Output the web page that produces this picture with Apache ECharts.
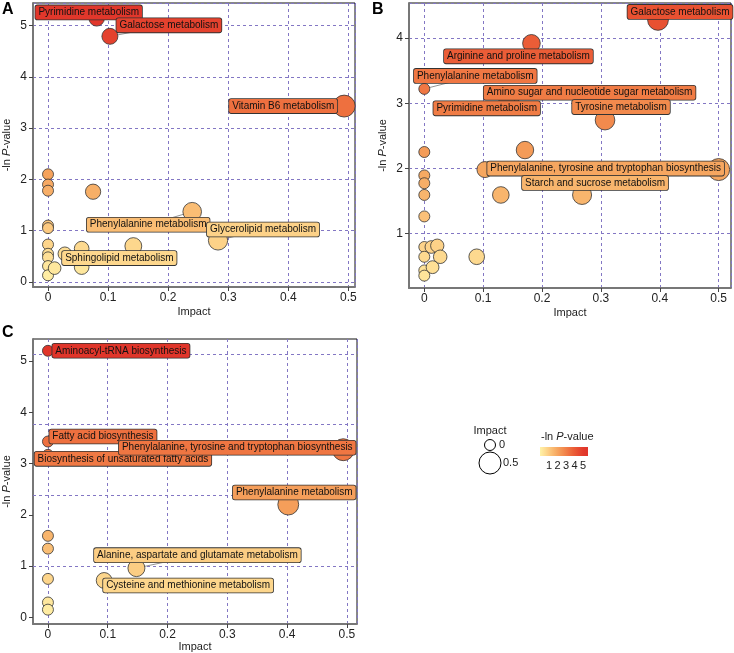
<!DOCTYPE html>
<html>
<head>
<meta charset="utf-8">
<script src="https://cdn.jsdelivr.net/npm/echarts@6/dist/echarts.min.js"></script>
<style>
html, body { margin: 0; padding: 0; background: #fff; }
#chart { width: 734px; height: 653px; }
</style>
</head>
<body>
<div id="chart"></div>
<script>
// panel A (labelled points first, names line up with the first entries)
const impactA = [0.081, 0.103, 0.493, 0.240, 0.283, 0.142, 0, 0, 0, 0, 0, 0, 0, 0, 0, 0, 0.011, 0.028, 0.056, 0.056, 0.075];
const logpA   = [5.14, 4.79, 3.43, 1.37, 0.81, 0.70, 2.10, 1.90, 1.78, 1.10, 1.05, 0.73, 0.55, 0.48, 0.31, 0.13, 0.27, 0.55, 0.65, 0.29, 1.76];
const namesA  = ['Pyrimidine metabolism', 'Galactose metabolism', 'Vitamin B6 metabolism', 'Phenylalanine metabolism', 'Glycerolipid metabolism', 'Sphingolipid metabolism'];

// panel B
const impactB = [0.397, 0.182, 0, 0.150, 0.140, 0.307, 0.500, 0.268, 0.103, 0.171, 0.130, 0.089, 0, 0, 0, 0, 0, 0, 0, 0, 0, 0.012, 0.022, 0.027, 0.014];
const logpB   = [4.28, 3.92, 3.22, 3.13, 3.09, 2.74, 1.98, 1.59, 1.98, 2.28, 1.59, 0.64, 2.25, 1.89, 1.77, 1.59, 1.26, 0.79, 0.64, 0.43, 0.35, 0.79, 0.81, 0.64, 0.48];
const namesB  = ['Galactose metabolism', 'Arginine and proline metabolism', 'Phenylalanine metabolism', 'Amino sugar and nucleotide sugar metabolism', 'Pyrimidine metabolism', 'Tyrosine metabolism', 'Phenylalanine, tyrosine and tryptophan biosynthesis', 'Starch and sucrose metabolism'];

// panel C
const impactC = [0, 0, 0, 0.494, 0.402, 0.148, 0.094, 0, 0, 0, 0, 0];
const logpC   = [5.20, 3.43, 3.17, 3.27, 2.20, 0.96, 0.72, 1.59, 1.34, 0.75, 0.29, 0.15];
const namesC  = ['Aminoacyl-tRNA biosynthesis', 'Fatty acid biosynthesis', 'Biosynthesis of unsaturated fatty acids', 'Phenylalanine, tyrosine and tryptophan biosynthesis', 'Phenylalanine metabolism', 'Alanine, aspartate and glutamate metabolism', 'Cysteine and methionine metabolism'];
const gridLinesC = [0.99, 2.38, 3.76, 5.14];

const colorTicks = [1, 2, 3, 4, 5];

// label centre offsets from the bubble, in px
const labelOffsets = [
  [[-8, -6], [59, -11], [-61, 0], [-44, 13], [45, -11], [-14, 12]],
  [[22, -8], [-13, 13], [51, -13], [77, -2], [-20, 11], [16, -13], [-113, -1], [13, -12]],
  [[73, 0], [55, -5], [75, 4], [-106, -2], [6, -12], [61, -13], [84, 5]]
];

const colorStops = ['#FFF2A8', '#FCC97F', '#F5A25C', '#F07A44', '#E95332', '#E0342A'];
const colorMax = 5.25;
const colorOf = v => echarts.color.lerp(Math.min(Math.max(v / colorMax, 0), 1), colorStops);
const sizeOf = imp => 11 + 11 * Math.sqrt(Math.max(imp, 0) / 0.5);

const FONT = 'Liberation Sans, Arial, sans-serif';
const gridColor = '#8377C4';

const onStep = (v, step) => Math.abs(v / step - Math.round(v / step)) < 1e-6;

function xAxisFor(gridIndex, min, max, nameGap) {
  return {
    type: 'value', gridIndex, min, max,
    name: 'Impact', nameLocation: 'middle', nameGap,
    nameTextStyle: { fontFamily: FONT, fontSize: 11, color: '#222' },
    axisLine: { show: true, onZero: false, lineStyle: { color: '#777', width: 2 } },
    axisTick: { show: true, length: 4, lineStyle: { color: '#444' } },
    axisLabel: {
      fontFamily: FONT, fontSize: 12, color: '#222', margin: 5,
      showMinLabel: false, showMaxLabel: false,
      formatter: v => onStep(v, 0.1) ? String(+v.toFixed(1)) : ''
    },
    splitLine: { show: true, lineStyle: { color: gridColor, type: [3, 3], width: 1 } }
  };
}

function yAxisFor(gridIndex, min, max, split) {
  return {
    type: 'value', gridIndex, min, max,
    name: '-ln {i|P}-value', nameLocation: 'middle', nameGap: 21, nameRotate: 90,
    nameTextStyle: {
      fontFamily: FONT, fontSize: 11, color: '#222',
      rich: { i: { fontStyle: 'italic', fontFamily: FONT, fontSize: 11, color: '#222' } }
    },
    axisLine: { show: true, onZero: false, lineStyle: { color: '#777', width: 2 } },
    axisTick: { show: true, length: 4, lineStyle: { color: '#444' } },
    axisLabel: {
      fontFamily: FONT, fontSize: 12, color: '#222', margin: 6,
      showMinLabel: false, showMaxLabel: false,
      formatter: v => onStep(v, 1) ? String(Math.round(v)) : ''
    },
    splitLine: { show: split, lineStyle: { color: gridColor, type: [3, 3], width: 1 } }
  };
}

function makeSeries(idx, impact, logp, names) {
  const data = impact.map((x, i) => {
    const item = { value: [x, logp[i]], name: names[i] || '' };
    if (names[i]) {
      item.label = { show: true, backgroundColor: colorOf(logp[i]) };
    }
    return item;
  });
  return {
    type: 'scatter',
    xAxisIndex: idx, yAxisIndex: idx,
    z: 2,
    data,
    symbolSize: v => sizeOf(v[0]),
    itemStyle: {
      color: p => colorOf(p.value[1]),
      borderColor: '#333', borderWidth: 0.8, opacity: 1
    },
    label: {
      show: false, position: 'inside', formatter: '{b}',
      fontFamily: FONT, fontSize: 10, color: '#111', lineHeight: 12,
      borderColor: '#333', borderWidth: 0.8, borderRadius: 2, padding: [1, 3, 1, 3]
    },
    labelLayout: p => {
      const off = labelOffsets[idx][p.dataIndex];
      return off ? { dx: off[0], dy: off[1] } : {};
    },
    emphasis: { disabled: true }
  };
}

const chart = echarts.init(document.getElementById('chart'));

const seriesC = makeSeries(2, impactC, logpC, namesC);
seriesC.markLine = {
  silent: true, symbol: 'none', z: 1, animation: false,
  label: { show: false },
  lineStyle: { color: gridColor, type: [3, 3], width: 1 },
  data: gridLinesC.map(v => ({ yAxis: v }))
};

// legend pieces
const cbLeft = 540, cbWidth = 48, cbPerUnit = 8.5, cbZero = 540.5;
const cbStops = [];
for (let k = 0; k <= 10; k++) {
  const v = (cbLeft - cbZero + cbWidth * k / 10) / cbPerUnit;
  cbStops.push({ offset: k / 10, color: colorOf(v) });
}

const graphic = [
  { type: 'text', left: 2, top: 2, style: { text: 'A', font: 'bold 16px ' + FONT, fill: '#000' } },
  { type: 'text', left: 372, top: 2, style: { text: 'B', font: 'bold 16px ' + FONT, fill: '#000' } },
  { type: 'text', left: 2, top: 325, style: { text: 'C', font: 'bold 16px ' + FONT, fill: '#000' } },
  { type: 'text', x: 490, y: 431, style: { text: 'Impact', font: '11px ' + FONT, fill: '#222', align: 'center', verticalAlign: 'middle' } },
  { type: 'circle', shape: { cx: 490, cy: 445, r: sizeOf(0) / 2 }, style: { fill: 'none', stroke: '#000', lineWidth: 1 } },
  { type: 'text', x: 499, y: 445, style: { text: '0', font: '11px ' + FONT, fill: '#222', verticalAlign: 'middle' } },
  { type: 'circle', shape: { cx: 490, cy: 463, r: sizeOf(0.5) / 2 }, style: { fill: 'none', stroke: '#000', lineWidth: 1 } },
  { type: 'text', x: 503, y: 463, style: { text: '0.5', font: '11px ' + FONT, fill: '#222', verticalAlign: 'middle' } },
  { type: 'text', x: 541, y: 437, style: {
      text: '-ln {i|P}-value', font: '11px ' + FONT, fill: '#222', verticalAlign: 'middle',
      rich: { i: { fontStyle: 'italic', fontSize: 11, fontFamily: FONT, fill: '#222' } }
  } },
  { type: 'rect', shape: { x: cbLeft, y: 447, width: cbWidth, height: 9 },
    style: { fill: new echarts.graphic.LinearGradient(0, 0, 1, 0, cbStops) } }
].concat(colorTicks.map(v => ({
  type: 'text', x: cbZero + v * cbPerUnit, y: 466,
  style: { text: String(v), font: '11px ' + FONT, fill: '#222', align: 'center', verticalAlign: 'middle' }
})));

chart.setOption({
  animation: false,
  backgroundColor: '#fff',
  grid: [
    { left: 33, top: 3, width: 322, height: 284, show: true, borderColor: '#111', borderWidth: 1, outerBoundsMode: 'none' },
    { left: 409, top: 3, width: 322, height: 285, show: true, borderColor: '#111', borderWidth: 1, outerBoundsMode: 'none' },
    { left: 33, top: 339, width: 324, height: 285, show: true, borderColor: '#111', borderWidth: 1, outerBoundsMode: 'none' }
  ],
  xAxis: [
    xAxisFor(0, -0.025, 0.511, 19),
    xAxisFor(1, -0.026, 0.521, 19),
    xAxisFor(2, -0.025, 0.517, 17)
  ],
  yAxis: [
    yAxisFor(0, -0.098, 5.44, true),
    yAxisFor(1, 0.16, 4.54, true),
    yAxisFor(2, -0.13, 5.43, false)
  ],
  series: [
    makeSeries(0, impactA, logpA, namesA),
    makeSeries(1, impactB, logpB, namesB),
    seriesC
  ],
  graphic
});

// leader lines from each labelled bubble toward its label (hidden under label box)
const panels = [[impactA, logpA, namesA], [impactB, logpB, namesB], [impactC, logpC, namesC]];
const leaders = [];
panels.forEach(([imp, lp, nm], g) => {
  nm.forEach((n, i) => {
    const p = chart.convertToPixel({ gridIndex: g }, [imp[i], lp[i]]);
    const off = labelOffsets[g][i];
    leaders.push({
      type: 'line', z: 1,
      shape: { x1: p[0], y1: p[1], x2: p[0] + off[0], y2: p[1] + off[1] },
      style: { stroke: '#777', lineWidth: 0.8 }
    });
  });
});
chart.setOption({ graphic: graphic.concat(leaders) });
</script>
</body>
</html>
